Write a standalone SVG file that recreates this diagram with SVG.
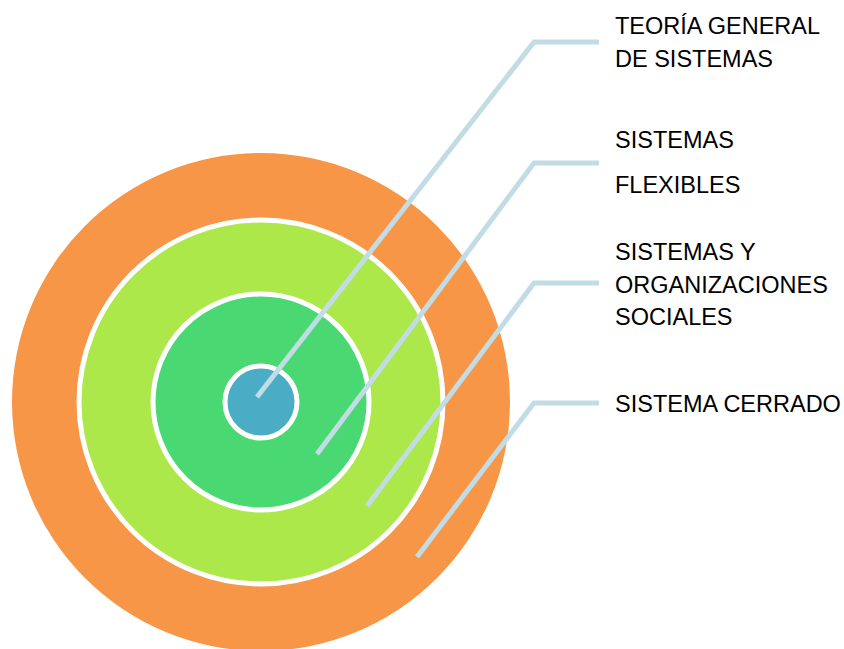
<svg xmlns="http://www.w3.org/2000/svg" width="844" height="649" viewBox="0 0 844 649">
<style>
.ring{stroke:#FFFFFF;stroke-width:5}
.conn{fill:none;stroke:#C1DCE4;stroke-width:5;stroke-linejoin:miter}
.lbl{font-family:"Liberation Sans","Open Sans",Arial,sans-serif;font-size:23.5px;fill:#000000}
</style>
<rect width="844" height="649" fill="#FFFFFF"/>
<g id="sistema-cerrado"><circle cx="261" cy="402" r="249" fill="#F79646"/></g>
<g id="sistemas-organizaciones"><circle class="ring" cx="261" cy="402" r="182" fill="#ADE84A"/></g>
<g id="sistemas-flexibles"><circle class="ring" cx="261" cy="402" r="108" fill="#4AD873"/></g>
<g id="teoria-general"><circle class="ring" cx="261" cy="402" r="36" fill="#4BACC6"/></g>
<g id="connectors">
<polyline class="conn" points="257,397 534,42 599,42"/>
<polyline class="conn" points="317,454 534,163 599,163"/>
<polyline class="conn" points="367,506 534,283 599,283"/>
<polyline class="conn" points="417,557 534,403 599,403"/>
</g>
<g id="labels">
<text class="lbl" x="615" y="34">TEORÍA GENERAL</text>
<text class="lbl" x="615" y="67">DE SISTEMAS</text>
<text class="lbl" x="615" y="148">SISTEMAS</text>
<text class="lbl" x="615" y="193">FLEXIBLES</text>
<text class="lbl" x="615" y="260">SISTEMAS Y</text>
<text class="lbl" x="615" y="293">ORGANIZACIONES</text>
<text class="lbl" x="615" y="325">SOCIALES</text>
<text class="lbl" x="615" y="412">SISTEMA CERRADO</text>
</g>
</svg>
